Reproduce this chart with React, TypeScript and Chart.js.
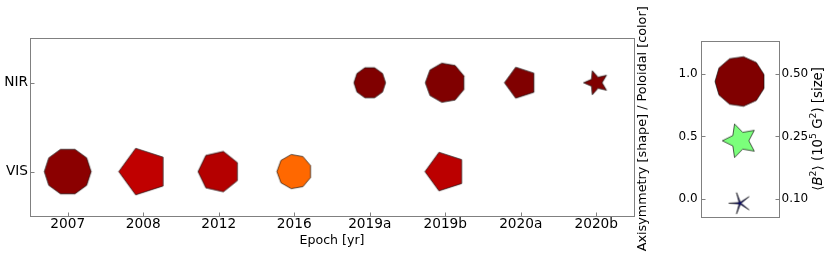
import React, { useEffect, useRef } from 'react';
import { Chart, registerables } from 'chart.js';

Chart.register(...registerables);
Chart.defaults.font.family = "'DejaVu Sans', sans-serif";
Chart.defaults.color = '#000';

// ---------------- data ----------------
const EPOCHS = ['2007', '2008', '2012', '2016', '2019a', '2019b', '2020a', '2020b'];
const BAND_LABELS = ['VIS', 'NIR'];
const X_TITLE = 'Epoch [yr]';

// VIS band (y = 0)
const VIS_EPOCHS = ['2007', '2008', '2012', '2016', '2019b'];
const VIS_B2 = [0.438, 0.48, 0.343, 0.241, 0.33];
const VIS_POLOIDAL = [0.99, 0.944, 0.955, 0.8, 0.949];
const VIS_AXISYM = [0.93, 0.57, 0.71, 0.86, 0.57];

// NIR band (y = 1)
const NIR_EPOCHS = ['2019a', '2019b', '2020a', '2020b'];
const NIR_B2 = [0.2, 0.317, 0.212, 0.129];
const NIR_POLOIDAL = [1.0, 1.0, 1.0, 1.0];
const NIR_AXISYM = [0.93, 0.86, 0.57, 0.45];

// key panel
const KEY_AXISYM = [1.0, 0.5, 0.0];
const KEY_POLOIDAL = [1.0, 0.5, 0.0];
const KEY_B2 = [0.5, 0.25, 0.1];
const KEY_Y = [0.94, 0.466, -0.034];
const KEY_LEFT_TICKS = [0, 0.5, 1.0];
const KEY_RIGHT_TICKS = [0.1, 0.25, 0.5];
const KEY_LEFT_TITLE = 'Axisymmetry [shape] / Poloidal [color]';

// ---------------- helpers ----------------
const SIZE_REF = 0.5; // B^2 value giving the reference marker radius
const SIZE_REF_RADIUS = 25;

function interp(pts: number[][], x: number) {
  if (x <= pts[0][0]) return pts[0][1];
  for (let i = 1; i < pts.length; i++) {
    if (x <= pts[i][0]) {
      const [x0, y0] = pts[i - 1];
      const [x1, y1] = pts[i];
      return y0 + ((y1 - y0) * (x - x0)) / (x1 - x0);
    }
  }
  return pts[pts.length - 1][1];
}
function jet(v: number) {
  const r = interp([[0, 0], [0.35, 0], [0.66, 1], [0.89, 1], [1, 0.5]], v);
  const g = interp([[0, 0], [0.125, 0], [0.375, 1], [0.64, 1], [0.91, 0], [1, 0]], v);
  const b = interp([[0, 0.5], [0.11, 1], [0.34, 1], [0.65, 0], [1, 0]], v);
  return `rgb(${Math.round(r * 255)},${Math.round(g * 255)},${Math.round(b * 255)})`;
}

const cache: Record<string, HTMLCanvasElement> = {};
function marker(b2: number, axisym: number, poloidal: number) {
  const key = `${b2}|${axisym}|${poloidal}`;
  if (cache[key]) return cache[key];
  const R = SIZE_REF_RADIUS * Math.sqrt(b2 / SIZE_REF);
  const size = Math.ceil(2 * R + 4);
  const c = document.createElement('canvas');
  c.width = size;
  c.height = size;
  const ctx = c.getContext('2d')!;
  const cx = size / 2;
  const cy = size / 2;
  ctx.beginPath();
  if (axisym > 0.5) {
    const n = 4 + Math.round(((axisym - 0.5) / 0.5) * 7);
    for (let k = 0; k < n; k++) {
      const a = Math.PI + (2 * Math.PI * k) / n;
      const x = cx + R * Math.cos(a);
      const y = cy + R * Math.sin(a);
      if (k === 0) ctx.moveTo(x, y);
      else ctx.lineTo(x, y);
    }
  } else {
    const inner = 0.1 + 0.8 * axisym;
    const n = 5;
    for (let k = 0; k < 2 * n; k++) {
      const a = Math.PI + (Math.PI * k) / n;
      const rr = k % 2 === 0 ? R : R * inner;
      const x = cx + rr * Math.cos(a);
      const y = cy + rr * Math.sin(a);
      if (k === 0) ctx.moveTo(x, y);
      else ctx.lineTo(x, y);
    }
  }
  ctx.closePath();
  ctx.fillStyle = jet(poloidal);
  ctx.fill();
  ctx.lineWidth = 0.7;
  ctx.strokeStyle = 'rgba(10,10,10,0.95)';
  ctx.stroke();
  cache[key] = c;
  return c;
}

const FRAME_COLOR = '#808080';

const framePlugin = {
  id: 'frame',
  afterDraw(chart: any, _args: any, opts: any) {
    const { ctx, chartArea: a } = chart;
    const L = Math.round(a.left) + 0.5;
    const T = Math.round(a.top) + 0.5;
    const R = Math.round(a.right) + 0.5;
    const B = Math.round(a.bottom) + 0.5;
    ctx.save();
    ctx.strokeStyle = FRAME_COLOR;
    ctx.lineWidth = 1;
    ctx.strokeRect(L, T, R - L, B - T);
    ctx.beginPath();
    for (const t of opts.ticks || []) {
      const s = chart.scales[t.scale];
      s.ticks.forEach((_tk: any, i: number) => {
        const p = Math.round(s.getPixelForTick(i)) + 0.5;
        if (t.edge === 'bottom') {
          ctx.moveTo(p, B);
          ctx.lineTo(p, B - 4);
        } else if (t.edge === 'left') {
          ctx.moveTo(L, p);
          ctx.lineTo(L + 4, p);
        } else if (t.edge === 'right') {
          ctx.moveTo(R, p);
          ctx.lineTo(R - 4, p);
        }
      });
    }
    ctx.stroke();
    ctx.restore();
  },
};

const rightTitlePlugin = {
  id: 'rightTitle',
  afterDraw(chart: any, _args: any, opts: any) {
    const { ctx, chartArea: a } = chart;
    const fs = opts.size;
    const segs = [
      { t: '\u27E8', sup: false, it: false },
      { t: 'B', sup: false, it: true },
      { t: '2', sup: true, it: false },
      { t: '\u27E9 (10', sup: false, it: false },
      { t: '5', sup: true, it: false },
      { t: ' G', sup: false, it: false },
      { t: '2', sup: true, it: false },
      { t: ') [size]', sup: false, it: false },
    ];
    const fam = "'DejaVu Sans', sans-serif";
    const fontOf = (s: any) => `${s.it ? 'italic ' : ''}${s.sup ? fs * 0.7 : fs}px ${fam}`;
    ctx.save();
    let w = 0;
    for (const s of segs) {
      ctx.font = fontOf(s);
      w += ctx.measureText(s.t).width;
    }
    ctx.translate(opts.x, (a.top + a.bottom) / 2);
    ctx.rotate(-Math.PI / 2);
    ctx.fillStyle = '#000';
    ctx.textBaseline = 'middle';
    ctx.textAlign = 'left';
    let x = -w / 2;
    for (const s of segs) {
      ctx.font = fontOf(s);
      ctx.fillText(s.t, x, s.sup ? -fs * 0.38 : 0);
      x += ctx.measureText(s.t).width;
    }
    ctx.restore();
  },
};

const NO_GRID = { display: false, drawTicks: false };

export default function App() {
  const mainRef = useRef<HTMLCanvasElement>(null);
  const keyRef = useRef<HTMLCanvasElement>(null);

  useEffect(() => {
    const main = new Chart(mainRef.current!, {
      type: 'scatter',
      data: {
        datasets: [
          {
            data: VIS_EPOCHS.map((e) => ({ x: e, y: 0 })) as any,
            pointStyle: (c: any) => marker(VIS_B2[c.dataIndex], VIS_AXISYM[c.dataIndex], VIS_POLOIDAL[c.dataIndex]),
            pointRadius: 5,
            clip: false,
          } as any,
          {
            data: NIR_EPOCHS.map((e) => ({ x: e, y: 1 })) as any,
            pointStyle: (c: any) => marker(NIR_B2[c.dataIndex], NIR_AXISYM[c.dataIndex], NIR_POLOIDAL[c.dataIndex]),
            pointRadius: 5,
            clip: false,
          } as any,
        ],
      },
      options: {
        animation: false,
        responsive: false,
        events: [],
        layout: { padding: { top: 38.3, right: 3, left: 0, bottom: 0 } },
        plugins: {
          legend: { display: false },
          tooltip: { enabled: false },
          frame: { ticks: [{ scale: 'x', edge: 'bottom' }, { scale: 'y', edge: 'left' }] },
        } as any,
        scales: {
          x: {
            type: 'category',
            labels: EPOCHS,
            offset: true,
            grid: NO_GRID,
            border: { display: false },
            ticks: { color: '#000', font: { size: 13.7 }, padding: 0, autoSkip: false, maxRotation: 0 },
            title: { display: true, text: X_TITLE, color: '#000', font: { size: 12.6 }, padding: { top: 0, bottom: 10.5 } },
            afterFit: (s: any) => {
              s.height = 43;
            },
          },
          y: {
            type: 'linear',
            min: -0.5,
            max: 1.5,
            grid: NO_GRID,
            border: { display: false },
            afterBuildTicks: (s: any) => {
              s.ticks = [0, 1].map((v) => ({ value: v }));
            },
            ticks: { color: '#000', font: { size: 13.7 }, padding: 2, callback: (v: any) => BAND_LABELS[v] },
            afterFit: (s: any) => {
              s.width = 30;
            },
          },
        } as any,
      },
      plugins: [framePlugin],
    });

    const key = new Chart(keyRef.current!, {
      type: 'scatter',
      data: {
        datasets: [
          {
            data: KEY_Y.map((y) => ({ x: 0, y })),
            pointStyle: (c: any) => marker(KEY_B2[c.dataIndex], KEY_AXISYM[c.dataIndex], KEY_POLOIDAL[c.dataIndex]),
            pointRadius: 5,
            clip: false,
          } as any,
        ],
      },
      options: {
        animation: false,
        responsive: false,
        events: [],
        layout: { padding: { top: 40.7, right: 0, left: 0, bottom: 42 } },
        plugins: {
          legend: { display: false },
          tooltip: { enabled: false },
          frame: { ticks: [{ scale: 'y', edge: 'left' }, { scale: 'y2', edge: 'right' }] },
          rightTitle: { x: 190.5, size: 13.3 },
        } as any,
        scales: {
          x: { type: 'linear', min: -1, max: 1, display: false },
          y: {
            type: 'linear',
            position: 'left',
            min: -0.144,
            max: 1.266,
            grid: NO_GRID,
            border: { display: false },
            afterBuildTicks: (s: any) => {
              s.ticks = KEY_LEFT_TICKS.map((v) => ({ value: v }));
            },
            ticks: { color: '#000', font: { size: 12 }, padding: 3.3, callback: (v: any) => Number(v).toFixed(1) },
            title: { display: true, text: KEY_LEFT_TITLE, color: '#000', font: { size: 12.8 }, padding: { top: 6.5, bottom: 0 } },
            afterFit: (s: any) => {
              s.width = 73;
            },
          },
          y2: {
            type: 'linear',
            position: 'right',
            min: -0.144,
            max: 1.266,
            grid: NO_GRID,
            border: { display: false },
            afterBuildTicks: (s: any) => {
              s.ticks = KEY_LEFT_TICKS.map((v) => ({ value: v }));
            },
            ticks: { color: '#000', font: { size: 12 }, padding: 2.5, callback: (_v: any, i: number) => KEY_RIGHT_TICKS[i].toFixed(2) },
            afterFit: (s: any) => {
              s.width = 52;
            },
          },
        } as any,
      },
      plugins: [framePlugin, rightTitlePlugin],
    });

    return () => {
      main.destroy();
      key.destroy();
    };
  }, []);

  return (
    <div style={{ position: 'fixed', left: 0, top: 0, width: 831, height: 259, background: '#fff', overflow: 'hidden' }}>
      <canvas ref={mainRef} width={640} height={259} style={{ position: 'absolute', left: 0, top: 0, width: 640, height: 259 }} />
      <canvas ref={keyRef} width={203} height={259} style={{ position: 'absolute', left: 628, top: 0, width: 203, height: 259 }} />
    </div>
  );
}
